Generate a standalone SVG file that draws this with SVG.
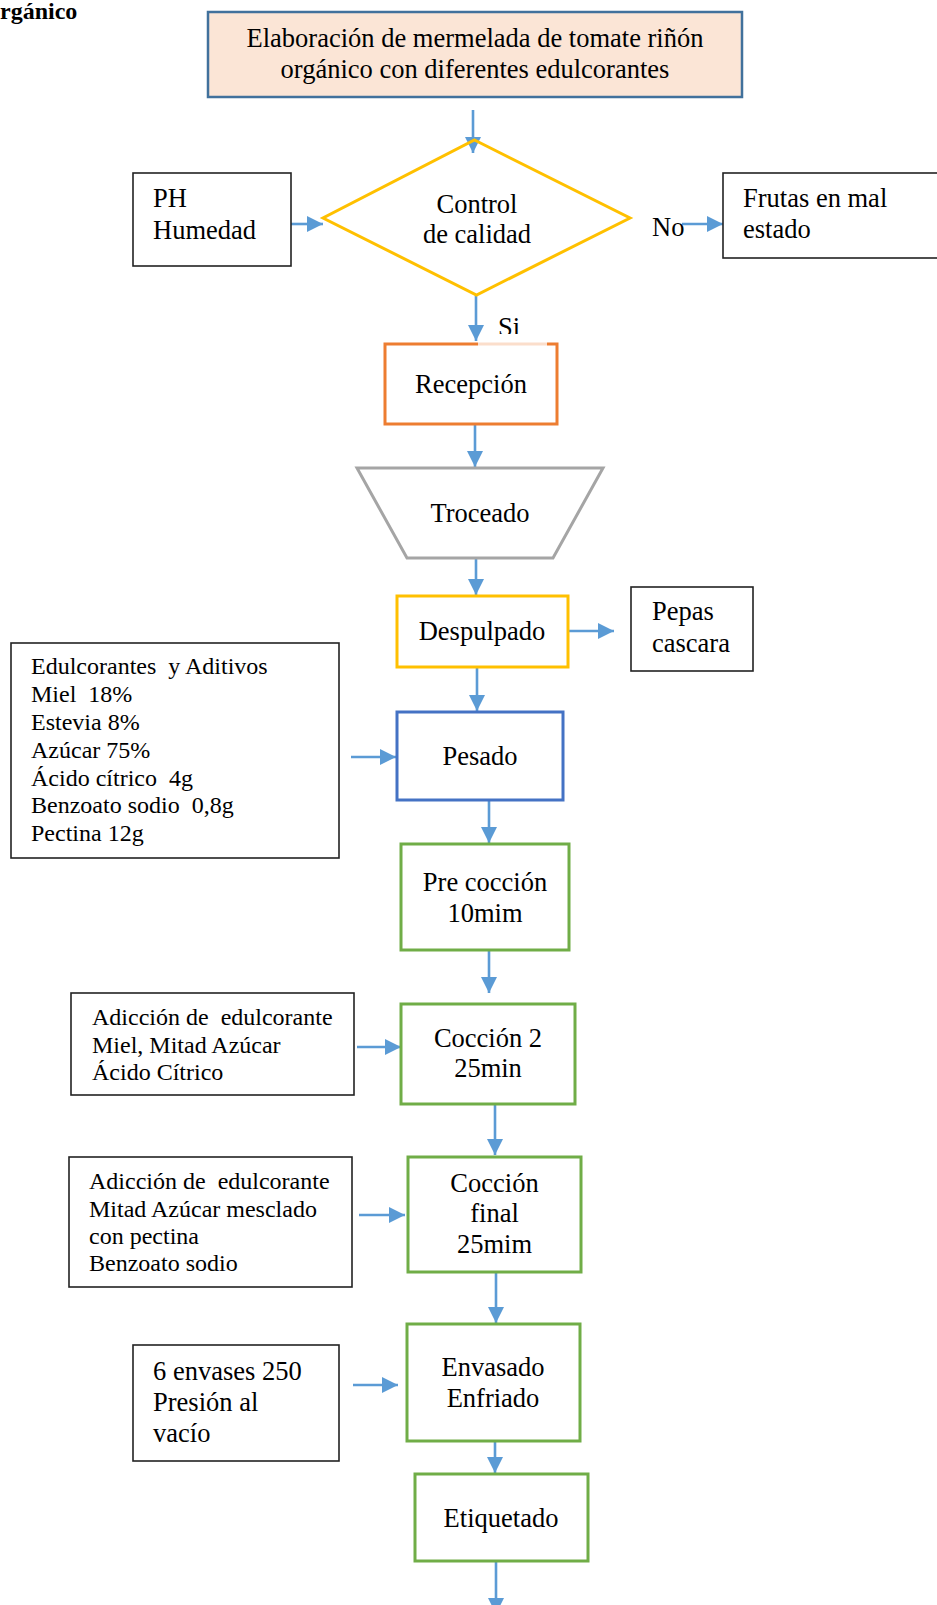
<svg xmlns="http://www.w3.org/2000/svg" width="937" height="1605" viewBox="0 0 937 1605">
<style>
text{font-family:"Liberation Serif","Times New Roman",serif;fill:#000}
.t{font-size:26.5px}
.s{font-size:24px}
.c{text-anchor:middle}
.blk{fill:#fff;stroke:#222;stroke-width:1.6}
.grn{fill:#fff;stroke:#70AD47;stroke-width:3}
.conn line{stroke:#5B9BD5;stroke-width:2.6;marker-end:url(#ah)}
</style>
<defs>
<marker id="ah" markerUnits="userSpaceOnUse" markerWidth="16" markerHeight="16" refX="16" refY="8" orient="auto">
<path d="M0,0 L16,8 L0,16 z" fill="#5B9BD5"/>
</marker>
<clipPath id="siclip"><rect x="480" y="300" width="70" height="34"/></clipPath>
</defs>
<rect width="937" height="1605" fill="#fff"/>

<text x="0" y="19" style="font-size:24px;font-weight:bold">rgánico</text>

<g id="connectors" class="conn">
<line x1="473" y1="110" x2="473" y2="153"/>
<line x1="291" y1="224" x2="323" y2="224"/>
<line x1="682" y1="224" x2="723" y2="224"/>
<line x1="476" y1="295" x2="476" y2="341"/>
<line x1="475" y1="424" x2="475" y2="467"/>
<line x1="476" y1="558" x2="476" y2="595"/>
<line x1="569" y1="631" x2="614" y2="631"/>
<line x1="477" y1="667" x2="477" y2="711"/>
<line x1="351" y1="757" x2="396" y2="757"/>
<line x1="489" y1="800" x2="489" y2="843"/>
<line x1="489" y1="950" x2="489" y2="993"/>
<line x1="357" y1="1047" x2="401" y2="1047"/>
<line x1="495" y1="1104" x2="495" y2="1155"/>
<line x1="359" y1="1215" x2="405" y2="1215"/>
<line x1="496" y1="1272" x2="496" y2="1323"/>
<line x1="353" y1="1385" x2="398" y2="1385"/>
<line x1="495" y1="1441" x2="495" y2="1473"/>
<line x1="496" y1="1561" x2="496" y2="1614"/>
</g>

<g id="titulo">
<rect x="208" y="12" width="534" height="85" fill="#FBE5D6" stroke="#41719C" stroke-width="2.5"/>
<text class="t c" x="475" y="47">Elaboración de mermelada de tomate riñón</text>
<text class="t c" x="475" y="78">orgánico con diferentes edulcorantes</text>
</g>

<g id="control">
<polygon points="474.5,140 630,218 476.5,295 323,218" fill="none" stroke="#FFC000" stroke-width="3"/>
<text class="t c" x="477" y="213">Control</text>
<text class="t c" x="477" y="243">de calidad</text>
</g>

<g id="ph">
<rect x="133" y="173" width="158" height="93" class="blk"/>
<text class="t" x="153" y="207">PH</text>
<text class="t" x="153" y="239">Humedad</text>
</g>

<g id="no">
<text class="t" x="652" y="236">No</text>
</g>

<g id="frutas">
<rect x="723" y="173" width="220" height="85" class="blk"/>
<text class="t" x="743" y="207">Frutas en mal</text>
<text class="t" x="743" y="238">estado</text>
</g>

<g id="recepcion">
<rect x="385" y="344" width="172" height="80" fill="#fff" stroke="#ED7D31" stroke-width="3"/>
<text class="t c" x="471" y="393">Recepción</text>
</g>

<g id="si">
<rect x="478" y="342" width="69" height="4" fill="#fff" opacity="0.75"/>
<text class="t" x="498" y="336" clip-path="url(#siclip)">Si</text>
</g>

<g id="troceado">
<polygon points="357,468 603,468 553,558 407,558" fill="#fff" stroke="#A5A5A5" stroke-width="3"/>
<text class="t c" x="480" y="522">Troceado</text>
</g>

<g id="despulpado">
<rect x="397" y="596" width="171" height="71" fill="#fff" stroke="#FFC000" stroke-width="3"/>
<text class="t c" x="482" y="640">Despulpado</text>
</g>

<g id="pepas">
<rect x="631" y="587" width="122" height="84" class="blk"/>
<text class="t" x="652" y="620">Pepas</text>
<text class="t" x="652" y="652">cascara</text>
</g>

<g id="aditivos">
<rect x="11" y="643" width="328" height="215" class="blk"/>
<text class="s" x="31" y="674" xml:space="preserve">Edulcorantes  y Aditivos</text>
<text class="s" x="31" y="702" xml:space="preserve">Miel  18%</text>
<text class="s" x="31" y="730">Estevia 8%</text>
<text class="s" x="31" y="758">Azúcar 75%</text>
<text class="s" x="31" y="786" xml:space="preserve">Ácido cítrico  4g</text>
<text class="s" x="31" y="813" xml:space="preserve">Benzoato sodio  0,8g</text>
<text class="s" x="31" y="841">Pectina 12g</text>
</g>

<g id="pesado">
<rect x="397" y="712" width="166" height="88" fill="#fff" stroke="#4472C4" stroke-width="3"/>
<text class="t c" x="480" y="765">Pesado</text>
</g>

<g id="precoccion">
<rect x="401" y="844" width="168" height="106" class="grn"/>
<text class="t c" x="485" y="891">Pre cocción</text>
<text class="t c" x="485" y="922">10mim</text>
</g>

<g id="adicion1">
<rect x="71" y="993" width="283" height="102" class="blk"/>
<text class="s" x="92" y="1025" xml:space="preserve">Adicción de  edulcorante</text>
<text class="s" x="92" y="1053">Miel, Mitad Azúcar</text>
<text class="s" x="92" y="1080">Ácido Cítrico</text>
</g>

<g id="coccion2">
<rect x="401" y="1004" width="174" height="100" class="grn"/>
<text class="t c" x="488" y="1047">Cocción 2</text>
<text class="t c" x="488" y="1077">25min</text>
</g>

<g id="adicion2">
<rect x="69" y="1157" width="283" height="130" class="blk"/>
<text class="s" x="89" y="1189" xml:space="preserve">Adicción de  edulcorante</text>
<text class="s" x="89" y="1217">Mitad Azúcar mesclado</text>
<text class="s" x="89" y="1244">con pectina</text>
<text class="s" x="89" y="1271">Benzoato sodio</text>
</g>

<g id="coccionfinal">
<rect x="408" y="1157" width="173" height="115" class="grn"/>
<text class="t c" x="494.5" y="1192">Cocción</text>
<text class="t c" x="494.5" y="1222">final</text>
<text class="t c" x="494.5" y="1253">25mim</text>
</g>

<g id="envases">
<rect x="133" y="1345" width="206" height="116" class="blk"/>
<text class="t" x="153" y="1380">6 envases 250</text>
<text class="t" x="153" y="1411">Presión al</text>
<text class="t" x="153" y="1442">vacío</text>
</g>

<g id="envasado">
<rect x="407" y="1324" width="173" height="117" class="grn"/>
<text class="t c" x="493" y="1376">Envasado</text>
<text class="t c" x="493" y="1407">Enfriado</text>
</g>

<g id="etiquetado">
<rect x="415" y="1474" width="173" height="87" class="grn"/>
<text class="t c" x="501" y="1527">Etiquetado</text>
</g>
</svg>
